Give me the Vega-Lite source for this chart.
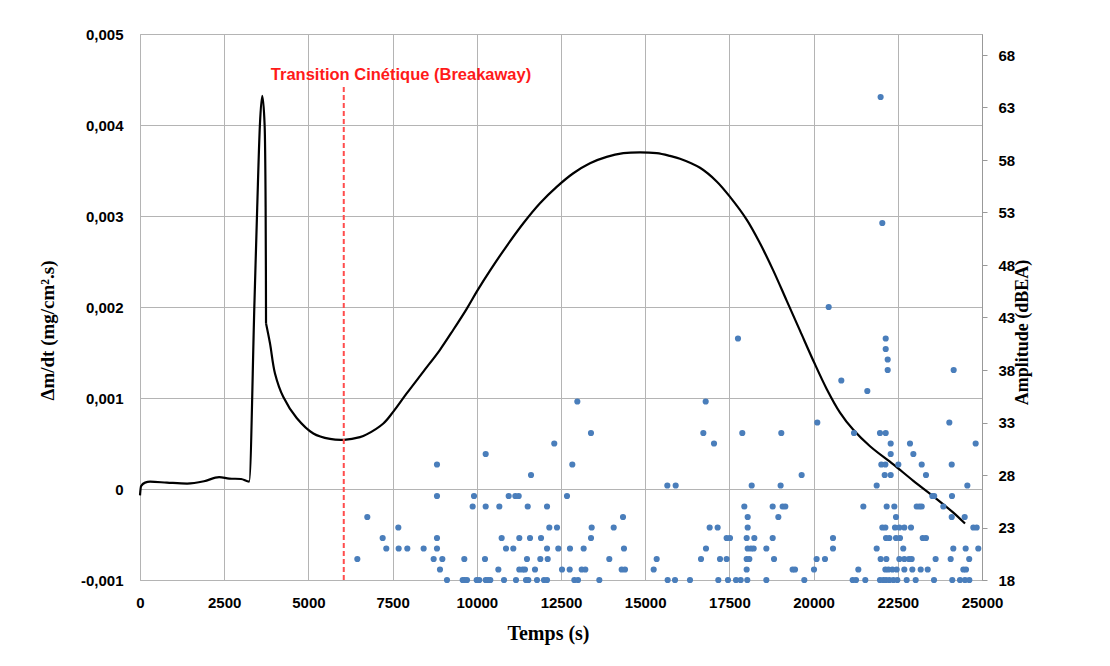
{
  "$schema": "https://vega.github.io/schema/vega-lite/v6.json",
  "width": 842,
  "height": 546,
  "autosize": {"type": "none"},
  "padding": {"left": 140, "top": 34, "right": 128, "bottom": 86},
  "background": "white",
  "config": {"view": {"stroke": "#b4b4b4"}, "font": "Liberation Sans"},
  "datasets": {
    "spike": [
      {"t": 0, "v": -0.00007}, {"t": 30, "v": 0.00003}, {"t": 150, "v": 0.00007}, {"t": 300, "v": 0.00008},
      {"t": 800, "v": 0.00007}, {"t": 1400, "v": 0.00006}, {"t": 1900, "v": 0.000085}, {"t": 2350, "v": 0.00013},
      {"t": 2650, "v": 0.000115}, {"t": 3000, "v": 0.00011}, {"t": 3240, "v": 0.00008}, {"t": 3400, "v": 0.00207},
      {"t": 3480, "v": 0.00309}, {"t": 3560, "v": 0.0040}, {"t": 3630, "v": 0.00432}, {"t": 3700, "v": 0.0040},
      {"t": 3730, "v": 0.0031}, {"t": 3738, "v": 0.0024}, {"t": 3742, "v": 0.00182}
    ],
    "curve": [
      {"t": 3742, "v": 0.00182}, {"t": 3860, "v": 0.0016},
      {"t": 4008, "v": 0.00127}, {"t": 4256, "v": 0.00101}, {"t": 4652, "v": 0.00078}, {"t": 5147, "v": 0.00061},
      {"t": 5641, "v": 0.00055}, {"t": 6057, "v": 0.00054}, {"t": 6532, "v": 0.00057}, {"t": 6730, "v": 0.0006},
      {"t": 7225, "v": 0.00072}, {"t": 7522, "v": 0.00085}, {"t": 7918, "v": 0.00105}, {"t": 8413, "v": 0.00129},
      {"t": 8907, "v": 0.00153}, {"t": 9303, "v": 0.00175}, {"t": 9700, "v": 0.00198}, {"t": 10016, "v": 0.00218},
      {"t": 10392, "v": 0.0024}, {"t": 10887, "v": 0.00267}, {"t": 11382, "v": 0.00292}, {"t": 11876, "v": 0.00314},
      {"t": 12372, "v": 0.00332}, {"t": 12866, "v": 0.00347}, {"t": 13361, "v": 0.00358}, {"t": 13856, "v": 0.00365},
      {"t": 14351, "v": 0.00369}, {"t": 14846, "v": 0.0037}, {"t": 15341, "v": 0.00369}, {"t": 15736, "v": 0.00366},
      {"t": 16033, "v": 0.00363}, {"t": 16627, "v": 0.00353}, {"t": 17122, "v": 0.00338}, {"t": 17518, "v": 0.00321},
      {"t": 18013, "v": 0.00296}, {"t": 18408, "v": 0.00270}, {"t": 18804, "v": 0.0024}, {"t": 19200, "v": 0.00207},
      {"t": 19596, "v": 0.00174}, {"t": 19992, "v": 0.00141}, {"t": 20388, "v": 0.00110}, {"t": 20784, "v": 0.00084},
      {"t": 21179, "v": 0.00065}, {"t": 21675, "v": 0.00047}, {"t": 22367, "v": 0.00027}, {"t": 22961, "v": 0.00009},
      {"t": 23555, "v": -0.00008}, {"t": 24149, "v": -0.00026}, {"t": 24496, "v": -0.00038}
    ],
    "ae": [
      {"t": 12985, "a": 35}, {"t": 13390, "a": 32}, {"t": 12300, "a": 31}, {"t": 10264, "a": 30},
      {"t": 8818, "a": 29}, {"t": 12836, "a": 29}, {"t": 11610, "a": 28}, {"t": 15657, "a": 27}, {"t": 15905, "a": 27},
      {"t": 8818, "a": 26}, {"t": 9917, "a": 26}, {"t": 10947, "a": 26}, {"t": 11144, "a": 26}, {"t": 11244, "a": 26}, {"t": 12678, "a": 26},
      {"t": 9877, "a": 25}, {"t": 10264, "a": 25}, {"t": 10669, "a": 25}, {"t": 11512, "a": 25}, {"t": 12085, "a": 25},
      {"t": 6749, "a": 24}, {"t": 14341, "a": 24},
      {"t": 7670, "a": 23}, {"t": 12153, "a": 23}, {"t": 12381, "a": 23}, {"t": 13411, "a": 23}, {"t": 14065, "a": 23},
      {"t": 7205, "a": 22}, {"t": 8818, "a": 22}, {"t": 10738, "a": 22}, {"t": 11262, "a": 22}, {"t": 11580, "a": 22}, {"t": 11907, "a": 22}, {"t": 13391, "a": 22},
      {"t": 7313, "a": 21}, {"t": 7680, "a": 21}, {"t": 7937, "a": 21}, {"t": 8422, "a": 21}, {"t": 8818, "a": 21}, {"t": 10867, "a": 21},
      {"t": 11084, "a": 21}, {"t": 12085, "a": 21}, {"t": 12420, "a": 21}, {"t": 12767, "a": 21}, {"t": 13173, "a": 21}, {"t": 14370, "a": 21},
      {"t": 6453, "a": 20}, {"t": 8719, "a": 20}, {"t": 8977, "a": 20}, {"t": 9629, "a": 20}, {"t": 10243, "a": 20}, {"t": 11490, "a": 20},
      {"t": 11886, "a": 20}, {"t": 12105, "a": 20}, {"t": 13934, "a": 20}, {"t": 15341, "a": 20},
      {"t": 8907, "a": 19}, {"t": 10640, "a": 19}, {"t": 11262, "a": 19}, {"t": 11362, "a": 19}, {"t": 11430, "a": 19}, {"t": 11728, "a": 19},
      {"t": 12530, "a": 19}, {"t": 12758, "a": 19}, {"t": 13115, "a": 19}, {"t": 13222, "a": 19}, {"t": 14302, "a": 19}, {"t": 14400, "a": 19}, {"t": 15252, "a": 19},
      {"t": 9115, "a": 18}, {"t": 9581, "a": 18}, {"t": 9640, "a": 18}, {"t": 9709, "a": 18}, {"t": 9996, "a": 18}, {"t": 10073, "a": 18},
      {"t": 10264, "a": 18}, {"t": 10333, "a": 18}, {"t": 10401, "a": 18}, {"t": 10808, "a": 18}, {"t": 11164, "a": 18}, {"t": 11461, "a": 18},
      {"t": 11530, "a": 18}, {"t": 11788, "a": 18}, {"t": 11995, "a": 18}, {"t": 12085, "a": 18}, {"t": 12896, "a": 18}, {"t": 13005, "a": 18},
      {"t": 13638, "a": 18}, {"t": 15667, "a": 18}, {"t": 15885, "a": 18},
      {"t": 21990, "a": 64}, {"t": 22040, "a": 52}, {"t": 20448, "a": 44}, {"t": 17755, "a": 41},
      {"t": 22141, "a": 41}, {"t": 22141, "a": 40}, {"t": 22200, "a": 39}, {"t": 22200, "a": 38}, {"t": 24159, "a": 38},
      {"t": 20823, "a": 37}, {"t": 21595, "a": 36}, {"t": 16796, "a": 35},
      {"t": 20110, "a": 33}, {"t": 24030, "a": 33},
      {"t": 16726, "a": 32}, {"t": 17883, "a": 32}, {"t": 19041, "a": 32}, {"t": 21200, "a": 32}, {"t": 21971, "a": 32}, {"t": 22141, "a": 32},
      {"t": 17043, "a": 31}, {"t": 22289, "a": 31}, {"t": 22862, "a": 31}, {"t": 24812, "a": 31},
      {"t": 22289, "a": 30}, {"t": 22962, "a": 30},
      {"t": 22011, "a": 29}, {"t": 22131, "a": 29}, {"t": 22516, "a": 29}, {"t": 23210, "a": 29}, {"t": 24101, "a": 29},
      {"t": 19645, "a": 28}, {"t": 22111, "a": 28}, {"t": 22289, "a": 28}, {"t": 23337, "a": 28},
      {"t": 18162, "a": 27}, {"t": 19021, "a": 27}, {"t": 21873, "a": 27}, {"t": 24565, "a": 27},
      {"t": 23525, "a": 26}, {"t": 23580, "a": 26}, {"t": 24109, "a": 26},
      {"t": 17943, "a": 25}, {"t": 18785, "a": 25}, {"t": 19081, "a": 25}, {"t": 19160, "a": 25}, {"t": 21477, "a": 25}, {"t": 22170, "a": 25},
      {"t": 22397, "a": 25}, {"t": 23061, "a": 25}, {"t": 23141, "a": 25}, {"t": 23210, "a": 25}, {"t": 23852, "a": 25},
      {"t": 18043, "a": 24}, {"t": 18953, "a": 24}, {"t": 22447, "a": 24}, {"t": 24101, "a": 24}, {"t": 24486, "a": 24},
      {"t": 16914, "a": 23}, {"t": 17151, "a": 23}, {"t": 18043, "a": 23}, {"t": 22041, "a": 23}, {"t": 22131, "a": 23}, {"t": 22417, "a": 23},
      {"t": 22546, "a": 23}, {"t": 22694, "a": 23}, {"t": 22892, "a": 23}, {"t": 24743, "a": 23}, {"t": 24842, "a": 23},
      {"t": 17418, "a": 22}, {"t": 17518, "a": 22}, {"t": 18013, "a": 22}, {"t": 18240, "a": 22}, {"t": 18785, "a": 22}, {"t": 20576, "a": 22},
      {"t": 22150, "a": 22}, {"t": 22249, "a": 22}, {"t": 22447, "a": 22}, {"t": 22565, "a": 22}, {"t": 23240, "a": 22}, {"t": 23337, "a": 22},
      {"t": 16805, "a": 21}, {"t": 18043, "a": 21}, {"t": 18141, "a": 21}, {"t": 18221, "a": 21}, {"t": 18597, "a": 21}, {"t": 20576, "a": 21},
      {"t": 21873, "a": 21}, {"t": 22662, "a": 21}, {"t": 24148, "a": 21}, {"t": 24515, "a": 21}, {"t": 24890, "a": 21},
      {"t": 16657, "a": 20}, {"t": 17221, "a": 20}, {"t": 17418, "a": 20}, {"t": 18013, "a": 20}, {"t": 18092, "a": 20}, {"t": 18825, "a": 20},
      {"t": 20090, "a": 20}, {"t": 20338, "a": 20}, {"t": 21991, "a": 20}, {"t": 22160, "a": 20}, {"t": 22546, "a": 20}, {"t": 22694, "a": 20},
      {"t": 22833, "a": 20}, {"t": 22912, "a": 20}, {"t": 23623, "a": 20}, {"t": 24070, "a": 20}, {"t": 24620, "a": 20},
      {"t": 18013, "a": 19}, {"t": 19377, "a": 19}, {"t": 19448, "a": 19}, {"t": 20012, "a": 19}, {"t": 21328, "a": 19}, {"t": 22131, "a": 19},
      {"t": 22220, "a": 19}, {"t": 22339, "a": 19}, {"t": 22467, "a": 19}, {"t": 22694, "a": 19}, {"t": 22932, "a": 19}, {"t": 23180, "a": 19},
      {"t": 23388, "a": 19}, {"t": 24446, "a": 19}, {"t": 24525, "a": 19},
      {"t": 16330, "a": 18}, {"t": 17171, "a": 18}, {"t": 17458, "a": 18}, {"t": 17696, "a": 18}, {"t": 17835, "a": 18}, {"t": 18031, "a": 18},
      {"t": 18597, "a": 18}, {"t": 19724, "a": 18}, {"t": 21160, "a": 18}, {"t": 21259, "a": 18}, {"t": 21535, "a": 18}, {"t": 21971, "a": 18},
      {"t": 22071, "a": 18}, {"t": 22150, "a": 18}, {"t": 22249, "a": 18}, {"t": 22368, "a": 18}, {"t": 22486, "a": 18}, {"t": 22764, "a": 18},
      {"t": 23031, "a": 18}, {"t": 23575, "a": 18}, {"t": 24118, "a": 18}, {"t": 24347, "a": 18}, {"t": 24495, "a": 18}, {"t": 24624, "a": 18}
    ]
  },
  "layer": [
    {
      "layer": [
        {
          "data": {"name": "spike"},
          "mark": {"type": "line", "color": "#000000", "strokeWidth": 2.2, "interpolate": "monotone"},
          "encoding": {
            "x": {
              "field": "t", "type": "quantitative",
              "scale": {"domain": [0, 25000], "nice": false},
              "axis": {
                "title": "Temps (s)",
                "values": [0, 2500, 5000, 7500, 10000, 12500, 15000, 17500, 20000, 22500, 25000],
                "format": "d",
                "labelFont": "Liberation Sans", "labelFontWeight": "bold", "labelFontSize": 15, "labelColor": "#000000",
                "labelPadding": 15, "ticks": false, "labelFlush": false,
                "domainColor": "#b4b4b4",
                "grid": true, "gridColor": "#b4b4b4", "gridWidth": 1,
                "titleFont": "Liberation Serif", "titleFontSize": 20, "titleFontWeight": "bold", "titleColor": "#000000",
                "titleX": 408, "titleY": 59, "titleAlign": "center", "titleBaseline": "alphabetic"
              }
            },
            "y": {
              "field": "v", "type": "quantitative",
              "scale": {"domain": [-0.001, 0.005], "nice": false, "zero": false},
              "axis": {
                "title": "Δm/dt (mg/cm².s)",
                "values": [-0.001, 0, 0.001, 0.002, 0.003, 0.004, 0.005],
                "labelExpr": "abs(datum.value) < 1e-9 ? '0' : replace(replace(format(datum.value, '.3f'), '.', ','), '−', '-')",
                "labelFont": "Liberation Sans", "labelFontWeight": "bold", "labelFontSize": 15, "labelColor": "#000000",
                "labelPadding": 17, "ticks": false, "domain": false,
                "grid": true, "gridColor": "#b4b4b4", "gridWidth": 1,
                "titleFont": "Liberation Serif", "titleFontSize": 19, "titleFontWeight": "bold", "titleColor": "#000000",
                "titleAngle": 270, "titleX": -93, "titleY": 296, "titleAlign": "center", "titleBaseline": "middle"
              }
            }
          }
        },
        {
          "data": {"name": "curve"},
          "mark": {"type": "line", "color": "#000000", "strokeWidth": 2.2, "interpolate": "catmull-rom"},
          "encoding": {
            "x": {"field": "t", "type": "quantitative", "title": "Temps (s)"},
            "y": {"field": "v", "type": "quantitative", "title": "Δm/dt (mg/cm².s)"}
          }
        },
        {
          "data": {"values": [{}]},
          "mark": {"type": "rule", "color": "#ff4d4d", "strokeWidth": 2, "strokeDash": [5, 3]},
          "encoding": {
            "x": {"datum": 6050, "type": "quantitative"},
            "y": {"datum": -0.001, "type": "quantitative"},
            "y2": {"datum": 0.00444}
          }
        },
        {
          "data": {"values": [{}]},
          "mark": {"type": "text", "color": "#ff1a1a", "font": "Liberation Sans", "fontWeight": "bold", "fontSize": 16.5, "align": "center", "baseline": "middle"},
          "encoding": {
            "x": {"datum": 7750, "type": "quantitative"},
            "y": {"datum": 0.00455, "type": "quantitative"},
            "text": {"value": "Transition Cinétique (Breakaway)"}
          }
        }
      ]
    },
    {
      "data": {"name": "ae"},
      "mark": {"type": "circle", "color": "#4a7ebb", "size": 38, "opacity": 1},
      "encoding": {
        "x": {"field": "t", "type": "quantitative", "title": "Temps (s)"},
        "y": {
          "field": "a", "type": "quantitative",
          "scale": {"domain": [18, 70], "nice": false, "zero": false},
          "axis": {
            "orient": "right",
            "title": "Amplitude (dBEA)",
            "values": [18, 23, 28, 33, 38, 43, 48, 53, 58, 63, 68],
            "labelFont": "Liberation Sans", "labelFontWeight": "bold", "labelFontSize": 15, "labelColor": "#000000",
            "labelPadding": 11, "tickSize": 5, "tickColor": "#999999", "domainColor": "#999999",
            "grid": false,
            "titleFont": "Liberation Serif", "titleFontSize": 18, "titleFontWeight": "bold", "titleColor": "#000000",
            "titleAngle": 270, "titleX": 40, "titleY": 298, "titleAlign": "center", "titleBaseline": "middle"
          }
        }
      }
    }
  ],
  "resolve": {"scale": {"y": "independent"}}
}
